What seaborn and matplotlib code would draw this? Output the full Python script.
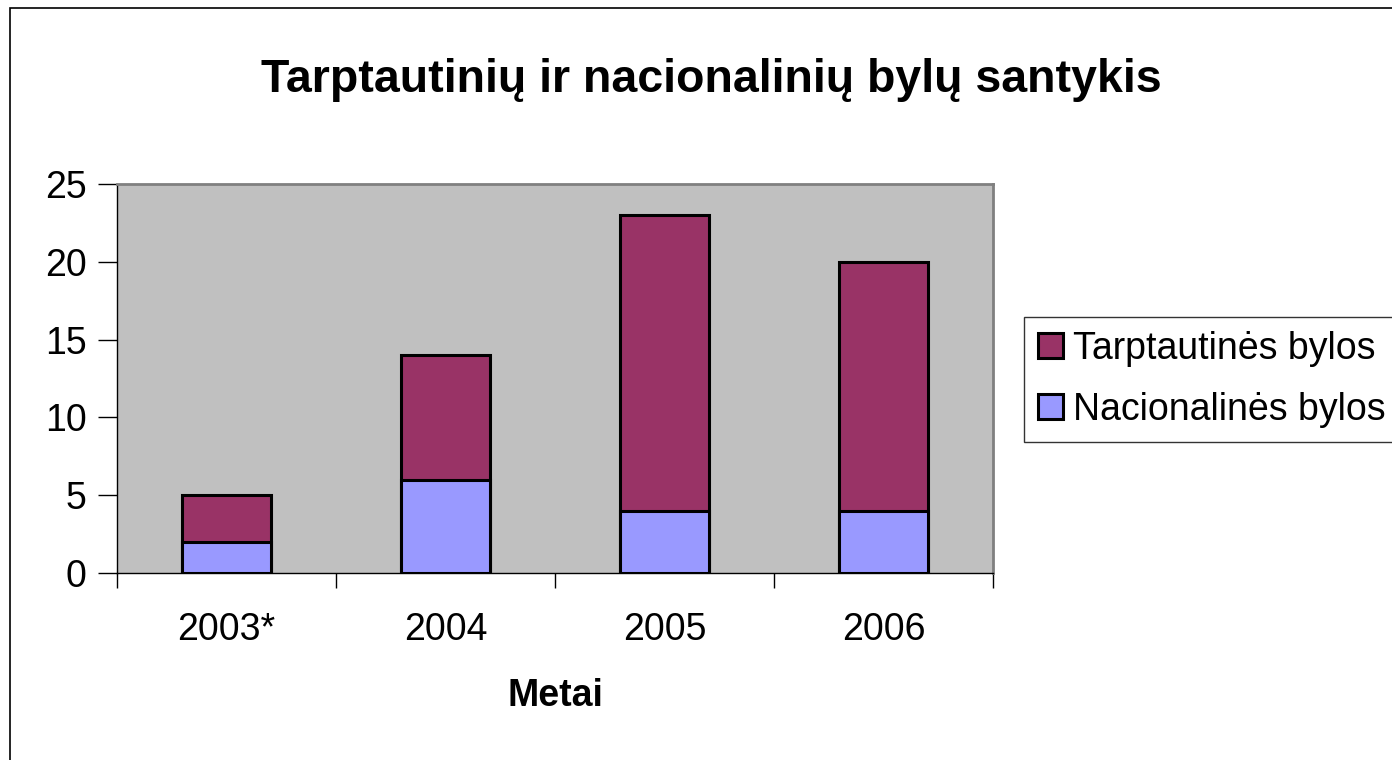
import pandas as pd
import matplotlib
matplotlib.use("Agg")
import matplotlib.pyplot as plt
import matplotlib.patches as mpatches
import seaborn as sns

# data
years = ["2003*", "2004", "2005", "2006"]
nacionalines = [2, 6, 4, 4]
tarptautines = [3, 8, 19, 16]

df = pd.DataFrame({
    "Metai": years,
    "Nacionalines": nacionalines,
    "Tarptautines": tarptautines,
})
df["Viso"] = df["Nacionalines"] + df["Tarptautines"]

sns.set_style("white")
plt.rcParams["font.family"] = ["Liberation Sans", "DejaVu Sans"]
plt.rcParams["text.color"] = "black"
plt.rcParams["xtick.color"] = "black"
plt.rcParams["ytick.color"] = "black"
plt.rcParams["axes.labelcolor"] = "black"

maroon = "#993366"
blue = "#9999FF"

fig = plt.figure(figsize=(13.92, 7.6), dpi=100)
ax = fig.add_axes([117 / 1392, 187 / 760, 876 / 1392, 389 / 760])
ax.set_facecolor("#C0C0C0")

# stacked bars: total first, national on top of it
sns.barplot(data=df, x="Metai", y="Viso", color=maroon, width=0.41,
            edgecolor="black", linewidth=2.2, saturation=1, ax=ax)
sns.barplot(data=df, x="Metai", y="Nacionalines", color=blue, width=0.41,
            edgecolor="black", linewidth=2.2, saturation=1, ax=ax)

ax.set_ylim(0, 25)
ax.set_xlim(-0.5, 3.5)
ax.set_yticks([0, 5, 10, 15, 20, 25])
ax.set_xticks([-0.5, 0.5, 1.5, 2.5, 3.5], minor=True)
ax.tick_params(axis="x", which="minor", bottom=True, length=11, width=1, color="black")
ax.tick_params(axis="x", which="major", bottom=False, length=0, labelsize=27, pad=28)
ax.tick_params(axis="y", length=14, width=1, color="black", labelsize=27,
               left=True, pad=8)
ax.set_ylabel("")
ax.set_xlabel("Metai", fontsize=27, fontweight="bold", labelpad=22)

for side in ["top", "right"]:
    ax.spines[side].set_visible(True)
    ax.spines[side].set_color("#808080")
    ax.spines[side].set_linewidth(2)
for side in ["left", "bottom"]:
    ax.spines[side].set_color("black")
    ax.spines[side].set_linewidth(1)

fig.text(711 / 1392, 1 - 92 / 760, "Tarptautinių ir nacionalinių bylų santykis",
         ha="center", va="baseline", fontsize=33.5, fontweight="bold")

handles = [
    mpatches.Patch(facecolor=maroon, edgecolor="black", linewidth=2.2, label="Tarptautinės bylos"),
    mpatches.Patch(facecolor=blue, edgecolor="black", linewidth=2.2, label="Nacionalinės bylos"),
]
leg = fig.legend(handles=handles, loc="upper left",
                 bbox_to_anchor=(1024 / 1392, 1 - 317 / 760),
                 borderaxespad=0, fontsize=27, frameon=True, fancybox=False,
                 handlelength=0.66, handleheight=0.66, handletextpad=0.27,
                 labelspacing=0.67, borderpad=0.37)
leg.get_frame().set_edgecolor("black")
leg.get_frame().set_linewidth(1)

# outer chart frame
fig.patches.append(mpatches.Rectangle((10 / 1392, -0.1), 2, 1 - 8 / 760 + 0.1,
                                      transform=fig.transFigure, fill=False,
                                      edgecolor="black", linewidth=1.2))

fig.savefig("out.png", dpi=100)
